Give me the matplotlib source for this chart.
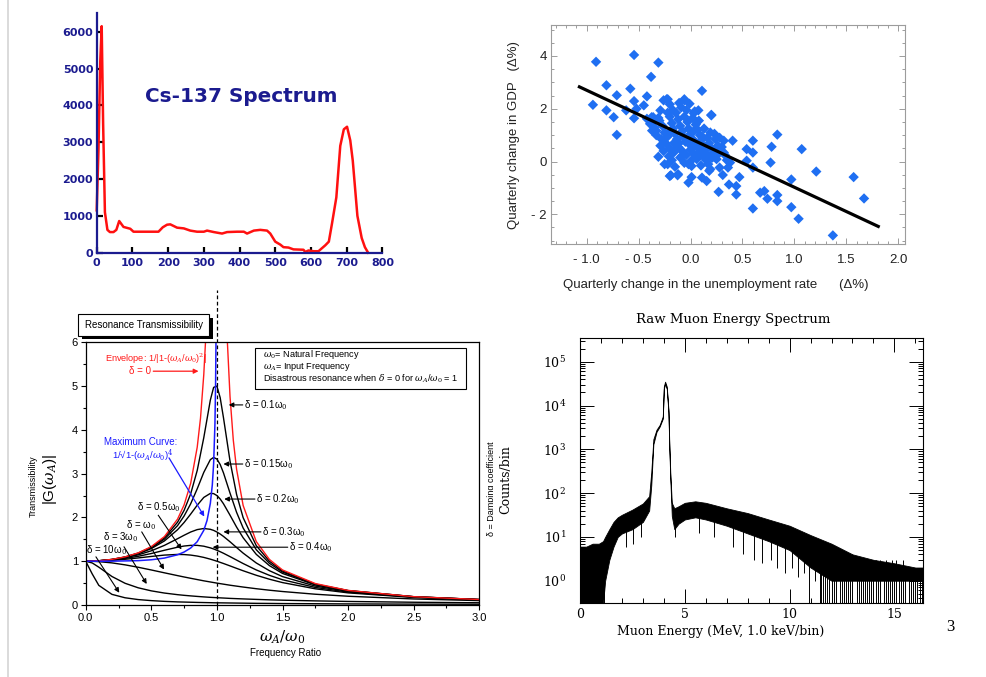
import matplotlib
matplotlib.use('Agg')
import matplotlib.pyplot as plt
from matplotlib.patches import Rectangle
from matplotlib.lines import Line2D
from matplotlib.transforms import Bbox, TransformedBbox
from matplotlib.ticker import MultipleLocator, LogLocator, NullFormatter, FixedLocator

plt.rcParams['font.family'] = ['Liberation Sans', 'DejaVu Sans']
plt.rcParams['mathtext.fontset'] = 'dejavuserif'

# ---------------- data: Cs-137 spectrum ----------------
cs_channel = [0, 5, 10, 14, 18, 23, 30, 37, 47, 55, 63, 75, 94, 103, 130, 173, 185, 197, 206,
              225, 244, 262, 281, 300, 309, 328, 351, 365, 393, 412, 421, 440, 458, 477, 486,
              500, 514, 523, 537, 551, 579, 584, 593, 607, 621, 640, 650, 659, 671, 682, 692,
              701, 710, 717, 730, 742, 751, 760]
cs_counts = [1150, 2800, 5200, 6150, 3500, 1100, 620, 560, 560, 620, 860, 700, 650, 570, 570,
             570, 690, 760, 770, 680, 660, 600, 570, 570, 600, 560, 520, 560, 570, 570, 520,
             600, 620, 600, 520, 300, 220, 150, 140, 90, 80, 20, 60, 40, 40, 200, 300, 800,
             1500, 2900, 3350, 3420, 3050, 2500, 1000, 400, 150, 0]
cs_xticks = [0, 100, 200, 300, 400, 500, 600, 700, 800]
cs_yticks = [0, 1000, 2000, 3000, 4000, 5000, 6000]

# ---------------- data: Okun scatter ----------------
gdp_x = [-0.91, -0.544, -0.31, -0.38, -0.81, -0.71, -0.58, -0.94, -0.81, -0.74, -0.71, -0.62,
         -0.544, -0.544, -0.52, -0.45, -0.42, -0.42, -0.31, -0.22, -0.26, -0.20, -0.11, -0.06,
         -0.01, 0.11, 0.20, 0.075, 0.03, -0.29, -0.36, -0.39, -0.33, -0.37, 0.32, 0.405, 0.60,
         0.835, 0.60, 0.54, 0.78, 1.07, 0.77, 0.60, 0.54, 0.47, 0.97, 1.21, 1.57, 1.67, 0.67,
         0.71, 0.74, 0.835, 0.835, 0.60, 0.97, 1.04, 1.37, 0.44, 0.44, 0.37, 0.27, 0.31, 0.155,
         0.11, 0.28, 0.36, 0.38, -0.02, 0.01, -0.12, -0.20, -0.25, 0.01, 0.19, 0.25, 0.32,
         0.155, 0.06, -0.375, -0.23, -0.06, 0.20, -0.22, -0.19, -0.125, -0.08, 0.20,
         -0.30, -0.27, -0.25, -0.22, -0.20, -0.18, -0.17, -0.15, -0.13, -0.12, -0.10, -0.08,
         -0.07, -0.05, -0.03, -0.02, 0.00, 0.02, 0.04, 0.05, 0.07, 0.09, 0.10, 0.12, 0.14,
         0.16, 0.18, 0.20, 0.22, 0.24, 0.26, -0.24, -0.20, -0.16, -0.12, -0.08, -0.04, 0.00,
         0.03, 0.06, -0.21, -0.18, -0.10, -0.06, 0.01, 0.09, 0.12, 0.15, -0.28, -0.33, -0.35,
         -0.31, -0.14, -0.06, 0.02, 0.08, -0.09, 0.04, -0.22, 0.13, 0.19, 0.23, 0.28, 0.30,
         0.27, 0.21, 0.17, 0.10, -0.02, -0.15, -0.26, -0.29, 0.33, 0.35, 0.18, 0.06, -0.01,
         -0.16, -0.19, -0.11, 0.11, 0.03, -0.04, -0.17]
gdp_y = [3.78, 4.04, 3.75, 3.21, 2.89, 2.51, 2.76, 2.15, 1.94, 1.68, 1.01, 1.94, 2.29, 1.64,
         2.00, 2.13, 2.47, 1.62, 0.18, 2.36, 2.32, 2.17, 2.22, 2.36, 2.19, 2.68, 1.77, 1.94,
         1.83, 1.94, 1.68, 1.43, 1.17, 1.17, 0.79, 0.79, 0.79, 1.02, 0.34, 0.47, 0.56, 0.47,
         -0.04, -0.23, 0.03, -0.59, -0.68, -0.38, -0.59, -1.40, -1.18, -1.12, -1.41, -1.27,
         -1.50, -1.78, -1.73, -2.17, -2.80, -1.25, -0.93, -0.87, -1.15, -0.51, -0.74, -0.61,
         -0.23, -0.23, -0.04, -0.80, -0.59, -0.48, -0.55, -0.10, -0.17, -0.29, 0.09, 0.34,
         0.28, 0.09, 1.68, 2.36, 2.32, 1.75, -0.10, -0.52, -0.52, 0.22, 0.15,
         1.55, 1.35, 1.10, 0.95, 1.70, 1.45, 1.25, 1.05, 0.85, 1.60, 1.35, 1.15, 0.95, 0.75,
         1.50, 1.25, 1.05, 0.85, 0.65, 1.40, 1.20, 1.00, 0.80, 0.60, 0.45, 0.90, 0.70, 0.50,
         0.35, 0.85, 0.60, 0.70, 0.50, 0.35, 0.55, 0.40, 0.25, 0.45, 0.30, 0.15, 0.20, 0.05,
         0.15, -0.05, 0.05, 0.35, 0.20, 0.05, 0.85, 1.00, 1.30, 1.65, 1.85, 1.70, 1.65, 1.55,
         2.05, 1.90, 1.85, 1.25, 1.10, 1.05, 0.90, 0.55, 0.30, 0.15, -0.10, -0.15, -0.10,
         -0.20, 0.40, 0.60, 0.25, 0.05, -0.35, 0.55, 0.65, 0.70, 1.15, 0.70, 0.95, 1.15,
         1.95, 1.95]
fit_x = [-1.07, 1.807]
fit_y = [2.83, -2.46]
okun_xticks = [-1.0, -0.5, 0.0, 0.5, 1.0, 1.5, 2.0]
okun_xlabels = ['- 1.0', '- 0.5', '0.0', '0.5', '1.0', '1.5', '2.0']
okun_yticks = [-2, 0, 2, 4]
okun_ylabels = ['- 2', '0', '2', '4']

# ---------------- data: resonance transmissibility ----------------
ratio = [0, 0.05, 0.1, 0.2, 0.3, 0.4, 0.5, 0.6, 0.7, 0.75, 0.8, 0.85, 0.9, 0.95, 0.975, 1.0,
         1.025, 1.05, 1.1, 1.15, 1.2, 1.3, 1.4, 1.5, 1.75, 2.0, 2.5, 3.0]
g_d010 = [1.0, 1.002, 1.010, 1.041, 1.096, 1.185, 1.322, 1.536, 1.891, 2.162, 2.538, 3.073,
          3.821, 4.68, 4.97, 5.0, 4.735, 4.28, 3.288, 2.525, 1.995, 1.356, 1.0, 0.778, 0.478,
          0.330, 0.190, 0.125]
g_d015 = [1.0, 1.002, 1.010, 1.040, 1.094, 1.179, 1.307, 1.504, 1.813, 2.033, 2.311, 2.654,
          3.029, 3.320, 3.371, 3.333, 3.209, 3.019, 2.556, 2.117, 1.759, 1.262, 0.954, 0.753,
          0.470, 0.327, 0.189, 0.124]
g_d020 = [1.0, 1.002, 1.009, 1.038, 1.089, 1.169, 1.288, 1.463, 1.719, 1.885, 2.076, 2.279,
          2.457, 2.549, 2.544, 2.5, 2.421, 2.313, 2.051, 1.780, 1.536, 1.157, 0.900, 0.721,
          0.459, 0.322, 0.187, 0.124]
g_d030 = [1.0, 1.002, 1.008, 1.034, 1.078, 1.145, 1.238, 1.362, 1.514, 1.593, 1.667, 1.722,
          1.747, 1.729, 1.704, 1.667, 1.621, 1.567, 1.444, 1.313, 1.185, 0.960, 0.784, 0.649,
          0.432, 0.310, 0.183, 0.122]
g_d040 = [1.0, 1.002, 1.007, 1.028, 1.063, 1.112, 1.176, 1.25, 1.320, 1.347, 1.362, 1.362,
          1.343, 1.305, 1.280, 1.25, 1.217, 1.182, 1.105, 1.026, 0.947, 0.801, 0.678, 0.577,
          0.401, 0.294, 0.178, 0.120]
g_d050 = [1.0, 1.001, 1.005, 1.020, 1.044, 1.075, 1.109, 1.140, 1.155, 1.152, 1.140, 1.118,
          1.087, 1.047, 1.024, 1.0, 0.974, 0.948, 0.893, 0.837, 0.782, 0.679, 0.589, 0.512,
          0.370, 0.277, 0.172, 0.117]
g_d1 = [1.0, 0.998, 0.990, 0.962, 0.917, 0.862, 0.800, 0.735, 0.671, 0.640, 0.610, 0.581,
        0.552, 0.526, 0.513, 0.500, 0.488, 0.476, 0.452, 0.431, 0.410, 0.372, 0.338, 0.308,
        0.246, 0.200, 0.138, 0.100]
g_d3 = [1.0, 0.960, 0.864, 0.651, 0.496, 0.393, 0.323, 0.273, 0.236, 0.221, 0.208, 0.196,
        0.185, 0.175, 0.171, 0.167, 0.163, 0.159, 0.151, 0.145, 0.139, 0.128, 0.118, 0.110,
        0.094, 0.081, 0.063, 0.051]
g_d10 = [1.0, 0.708, 0.448, 0.243, 0.165, 0.124, 0.100, 0.083, 0.071, 0.067, 0.063, 0.059,
         0.056, 0.053, 0.051, 0.050, 0.049, 0.048, 0.046, 0.044, 0.042, 0.038, 0.036, 0.033,
         0.029, 0.025, 0.020, 0.017]
env_left_r = [0, 0.1, 0.2, 0.3, 0.4, 0.5, 0.6, 0.7, 0.75, 0.8, 0.85, 0.875, 0.9, 0.913]
env_left_g = [1.0, 1.010, 1.042, 1.099, 1.190, 1.333, 1.563, 1.961, 2.286, 2.778, 3.604, 4.267,
              5.263, 6.0]
env_right_r = [1.080, 1.1, 1.125, 1.15, 1.2, 1.3, 1.4, 1.5, 1.75, 2.0, 2.5, 3.0]
env_right_g = [6.0, 4.762, 3.765, 3.101, 2.273, 1.449, 1.042, 0.8, 0.490, 0.333, 0.190, 0.125]
max_r = [0, 0.2, 0.4, 0.5, 0.6, 0.7, 0.75, 0.8, 0.85, 0.9, 0.925, 0.95, 0.965, 0.975, 0.985,
         0.99, 0.993]
max_g = [1.0, 1.001, 1.013, 1.033, 1.072, 1.147, 1.210, 1.301, 1.446, 1.705, 1.932, 2.322,
         2.744, 3.222, 4.129, 5.04, 6.0]

# ---------------- data: muon energy spectrum ----------------
muon_E = [0.0, 0.3, 0.6, 0.9, 1.1, 1.2, 1.4, 1.6, 1.8, 2.0, 2.5, 3.0, 3.3, 3.4, 3.5, 3.65,
          3.8, 3.95, 4.0, 4.06, 4.14, 4.22, 4.26, 4.31, 4.38, 4.5, 4.7, 5.0, 5.5, 6.0, 7.0,
          8.0, 9.0, 10.0, 11.0, 12.0, 13.0, 14.0, 15.0, 16.0, 16.38]
muon_hi = [6, 6, 7, 7, 8, 10, 15, 22, 28, 32, 42, 58, 85, 300, 1700, 2800, 3600, 5600, 27000,
           35000, 27000, 8000, 1400, 280, 60, 45, 50, 60, 65, 60, 45, 35, 25, 18, 11, 7, 4, 3,
           2.5, 2, 2]
muon_lo = [0.3, 0.3, 0.3, 0.3, 0.3, 1, 3, 6, 10, 12, 15, 22, 40, 150, 1300, 2500, 3300, 5000,
           24000, 31000, 24000, 7000, 1100, 200, 30, 15, 20, 25, 28, 25, 18, 12, 8, 5, 2, 1,
           1, 1, 1, 1, 1]
dip_E = [0.95, 1.05, 1.15, 2.2, 2.55, 2.9, 4.55, 5.7, 6.4, 7.3, 7.8, 8.3, 8.7, 9.1, 9.4, 9.8,
         10.1, 10.4, 10.7, 10.95, 11.2, 11.45,
         11.5, 11.6, 11.7, 11.8, 11.9, 12.0, 12.1, 12.2, 12.4, 12.5, 12.6, 12.7, 12.8, 12.9,
         13.0, 13.2, 13.3, 13.4, 13.5, 13.6, 13.7, 13.8, 13.9, 14.0, 14.1, 14.2, 14.3, 14.5,
         14.6, 14.7, 14.8, 14.9, 15.0, 15.1, 15.2, 15.3, 15.4, 15.5, 15.7, 15.8, 15.9, 16.0,
         16.1, 16.2, 16.3]
dip_min = [0.3, 0.3, 0.3, 6, 7, 10, 10, 12, 10, 6, 4, 3, 2.5, 3, 2, 1.5, 2, 1.2, 1.5, 0.3,
           1, 0.3,
           0.3, 0.3, 0.3, 0.3, 0.3, 0.3, 0.3, 0.3, 0.3, 0.3, 0.3, 0.3, 0.3, 0.3, 0.3, 0.3,
           0.3, 0.3, 0.3, 0.3, 0.3, 0.3, 0.3, 0.3, 0.3, 0.3, 0.3, 0.3, 0.3, 0.3, 0.3, 0.3,
           0.3, 0.3, 0.3, 0.3, 0.3, 0.3, 0.3, 0.3, 0.3, 0.3, 0.3, 0.3, 0.3]
dip_max = [5, 5, 5, 20, 25, 30, 30, 40, 35, 25, 20, 15, 12, 10, 9, 8, 7, 6, 5, 4, 4, 3,
           5, 4, 6, 4, 5, 3, 4, 5, 3, 4, 3, 4, 3, 3, 4, 3, 3, 2, 3, 3, 2, 3, 2, 3, 3, 2, 3,
           2, 3, 2, 2, 3, 2, 3, 2, 2, 3, 2, 2, 2, 2, 2, 2, 2, 2]
muon_xticks = [0, 5, 10, 15]
muon_yticks = [1, 10, 100, 1000, 10000, 100000]
muon_ylabels = ['$10^{0}$', '$10^{1}$', '$10^{2}$', '$10^{3}$', '$10^{4}$', '$10^{5}$']

# ---------------- layout helpers ----------------
W, H = 987, 677
fig = plt.figure(figsize=(W / 100, H / 100), dpi=100)
fig.patch.set_facecolor('white')


def rect(x0, y0, x1, y1):
    return [x0 / W, 1 - y1 / H, (x1 - x0) / W, (y1 - y0) / H]


def fx(x):
    return x / W


def fy(y):
    return 1 - y / H


fig.add_artist(Line2D([fx(8.3), fx(8.3)], [0, 1], color='#d4d4d4', lw=1.2))

# ================= Panel 1: Cs-137 =================
NAVY = '#1b1b8f'
ax1 = fig.add_axes(rect(96.7, 13.3, 382.4, 252.7))
ax1.plot(cs_channel, cs_counts, color='#ff1010', lw=1.8, clip_on=False)
ax1.set_xlim(0, 800)
ax1.set_ylim(0, 6500)
for s in ['top', 'right']:
    ax1.spines[s].set_visible(False)
for s in ['left', 'bottom']:
    ax1.spines[s].set_color(NAVY)
    ax1.spines[s].set_linewidth(1.6)
ax1.set_xticks(cs_xticks)
ax1.set_yticks(cs_yticks)
ax1.tick_params(direction='in', length=4, width=1.6, color='black', labelsize=8,
                labelcolor=NAVY)
ax1.tick_params(axis='x', pad=4)
ax1.tick_params(axis='y', pad=2.5)
for lab in ax1.get_xticklabels() + ax1.get_yticklabels():
    lab.set_fontweight('bold')
    lab.set_fontfamily('DejaVu Sans')
ax1.text(135, 4254, 'Cs-137 Spectrum', fontsize=14.4, fontweight='bold', color=NAVY,
         family='DejaVu Sans', va='center', ha='left')

# ================= Panel 2: Okun scatter =================
GREY = '#9c9c9c'
ax2 = fig.add_axes(rect(551, 25, 905, 244))
ax2.scatter(gdp_x, gdp_y, marker='D', s=28, color='#1f6ff2', edgecolors='none', zorder=2)
ax2.plot(fit_x, fit_y, color='black', lw=2.3, zorder=3)
ax2.set_xlim(-1.3436, 2.0645)
ax2.set_ylim(-3.126, 5.175)
for s in ax2.spines.values():
    s.set_color(GREY)
    s.set_linewidth(0.8)
ax2.xaxis.set_major_locator(FixedLocator(okun_xticks))
ax2.set_xticklabels(okun_xlabels)
ax2.yaxis.set_major_locator(FixedLocator(okun_yticks))
ax2.set_yticklabels(okun_ylabels)
ax2.xaxis.set_minor_locator(MultipleLocator(0.1))
ax2.yaxis.set_minor_locator(MultipleLocator(0.5))
ax2.tick_params(which='both', direction='in', top=True, right=True, color=GREY, width=0.7,
                labelsize=9.5, labelcolor='#222222')
ax2.tick_params(which='major', length=4)
ax2.tick_params(which='minor', length=2.5)
ax2.tick_params(axis='x', pad=7)
ax2.tick_params(axis='y', pad=3)
fig.text(fx(716), fy(285), 'Quarterly change in the unemployment rate      (\u0394%)',
         ha='center', va='center', fontsize=9.5, color='#222222')
fig.text(fx(514), fy(135), 'Quarterly change in GDP   (\u0394%)', rotation=90,
         ha='center', va='center', fontsize=9.5, color='#222222')

# ================= Panel 3: resonance =================
ax3 = fig.add_axes(rect(85.7, 342.3, 479.3, 605))
curves = [g_d010, g_d015, g_d020, g_d030, g_d040, g_d050, g_d1, g_d3, g_d10]
for g in curves:
    ax3.plot(ratio, g, color='black', lw=1.0)
ax3.plot(env_left_r, env_left_g, color='#ff1a1a', lw=1.0)
ax3.plot(env_right_r, env_right_g, color='#ff1a1a', lw=1.0)
ax3.plot(max_r, max_g, color='#1a1aff', lw=1.1)
ax3.plot([1, 1], [0, 7.19], color='black', lw=0.9, dashes=(3, 2), clip_on=False)
ax3.set_xlim(0, 3)
ax3.set_ylim(0, 6)
ax3.xaxis.set_major_locator(MultipleLocator(0.5))
ax3.xaxis.set_minor_locator(MultipleLocator(0.25))
ax3.yaxis.set_major_locator(MultipleLocator(1))
ax3.yaxis.set_minor_locator(MultipleLocator(0.5))
ax3.xaxis.set_major_formatter(matplotlib.ticker.FormatStrFormatter('%.1f'))
ax3.tick_params(which='both', direction='out', labelsize=8, width=0.8)
ax3.tick_params(which='major', length=3.5, pad=2)
ax3.tick_params(which='minor', length=2)
for s in ax3.spines.values():
    s.set_linewidth(0.9)

LBL = 7.0
ax3.text(0.15, 5.62, r'Envelope: 1/|1-($\omega_A$/$\omega_0$)$^2$|', color='#ff1a1a',
         fontsize=6.6, va='center', ha='left')
ax3.text(0.33, 5.34, '\u03b4 = 0', color='#ff1a1a', fontsize=LBL, va='center', ha='left')
ax3.annotate('', xy=(0.86, 5.34), xytext=(0.515, 5.34),
             arrowprops=dict(arrowstyle='-|>', color='#ff1a1a', lw=0.9, mutation_scale=7,
                             shrinkA=0, shrinkB=0))
ax3.text(0.14, 3.73, 'Maximum Curve:', color='#1a1aff', fontsize=LBL, va='center', ha='left')
ax3.text(0.2, 3.42, '1/\u221a1-($\\omega_A$/$\\omega_0$)$^4$',
         color='#1a1aff', fontsize=6.8, va='center', ha='left')
ax3.annotate('', xy=(0.904, 2.02), xytext=(0.635, 3.36),
             arrowprops=dict(arrowstyle='-|>', color='#1a1aff', lw=0.9, mutation_scale=7,
                             shrinkA=0, shrinkB=0))

ax3.add_patch(Rectangle((1.29, 4.93), 1.606, 0.94, facecolor='white', edgecolor='black',
                        lw=0.8, zorder=4))
ax3.text(1.349, 5.71, r'$\omega_0$= Natural Frequency', fontsize=6.6, va='center', zorder=5)
ax3.text(1.349, 5.44, r'$\omega_A$= Input Frequency', fontsize=6.6, va='center', zorder=5)
ax3.text(1.349, 5.16, r'Disastrous resonance when $\delta$ = 0 for $\omega_A$/$\omega_0$ = 1',
         fontsize=6.6, va='center', zorder=5)

right_labels = [
    ('\u03b4 = 0.1\u03c9$_0$', (1.207, 4.57), (1.09, 4.57)),
    ('\u03b4 = 0.15\u03c9$_0$', (1.207, 3.22), (1.05, 3.22)),
    ('\u03b4 = 0.2\u03c9$_0$', (1.30, 2.42), (1.056, 2.42)),
    ('\u03b4 = 0.3\u03c9$_0$', (1.346, 1.67), (1.05, 1.67)),
    ('\u03b4 = 0.4\u03c9$_0$', (1.55, 1.32), (0.968, 1.32)),
]
for txt, tpos, tip in right_labels:
    ax3.text(tpos[0], tpos[1], txt, fontsize=LBL, va='center', ha='left')
    ax3.annotate('', xy=tip, xytext=(tpos[0] - 0.01, tpos[1]),
                 arrowprops=dict(arrowstyle='-|>', color='black', lw=0.8, mutation_scale=7,
                                 shrinkA=0, shrinkB=0))
left_labels = [
    ('\u03b4 = 0.5\u03c9$_0$', (0.393, 2.23), (0.553, 2.05), (0.73, 1.27)),
    ('\u03b4 = \u03c9$_0$', (0.31, 1.83), (0.427, 1.67), (0.597, 0.81)),
    ('\u03b4 = 3\u03c9$_0$', (0.134, 1.545), (0.292, 1.33), (0.465, 0.48)),
    ('\u03b4 = 10\u03c9$_0$', (0.004, 1.256), (0.078, 1.10), (0.256, 0.28)),
]
for txt, tpos, start, tip in left_labels:
    ax3.text(tpos[0], tpos[1], txt, fontsize=LBL, va='center', ha='left')
    ax3.annotate('', xy=tip, xytext=start,
                 arrowprops=dict(arrowstyle='-|>', color='black', lw=0.8, mutation_scale=7,
                                 shrinkA=0, shrinkB=0))

# title box with shadow
fig.add_artist(Rectangle((fx(82.3), fy(339.3)), (212.7 - 82.3) / W, (339.3 - 318) / H,
                         transform=fig.transFigure, facecolor='black', edgecolor='none'))
fig.add_artist(Rectangle((fx(78.3), fy(335.7)), (209 - 78.3) / W, (335.7 - 314.3) / H,
                         transform=fig.transFigure, facecolor='white', edgecolor='black',
                         lw=0.8))
fig.text(fx(143.6), fy(325), 'Resonance Transmissibility', ha='center', va='center',
         fontsize=7)
fig.text(fx(33), fy(486.5), 'Transmissibility', rotation=90, ha='center', va='center',
         fontsize=6.5)
fig.text(fx(50), fy(479), r'|G($\omega_A$)|', rotation=90, ha='center', va='center',
         fontsize=11)
fig.text(fx(282), fy(637), r'$\omega_A/\omega_0$', ha='center', va='center', fontsize=11)
fig.text(fx(286), fy(653), 'Frequency Ratio', ha='center', va='center', fontsize=7)
dtxt = fig.text(fx(491.5), fy(489), '\u03b4 = Damping coefficient', rotation=90, ha='center',
                va='center', fontsize=6.5)
dtxt.set_clip_box(TransformedBbox(Bbox([[0, 0], [493.5 / W, 1]]), fig.transFigure))
dtxt.set_clip_on(True)

# ================= Panel 4: muon spectrum =================
SERIF = 'DejaVu Serif'
ax4 = fig.add_axes(rect(580, 337.7, 923.3, 602.7))
ax4.set_yscale('log')
ax4.fill_between(muon_E, muon_lo, muon_hi, color='black', lw=0.6, edgecolor='black')
ax4.vlines(dip_E, dip_min, dip_max, color='black', lw=0.7)
ax4.set_xlim(0, 16.38)
ax4.set_ylim(10 ** -0.502, 10 ** 5.548)
ax4.set_xticks(muon_xticks)
ax4.set_xticklabels([str(v) for v in muon_xticks])
ax4.xaxis.set_minor_locator(MultipleLocator(1))
ax4.yaxis.set_major_locator(FixedLocator(muon_yticks))
ax4.set_yticklabels(muon_ylabels)
ax4.yaxis.set_minor_locator(LogLocator(base=10, subs=[2, 3, 4, 5, 6, 7, 8, 9], numticks=20))
ax4.yaxis.set_minor_formatter(NullFormatter())
ax4.tick_params(which='both', direction='in', top=True, right=True, width=0.7,
                labelsize=9)
ax4.tick_params(which='major', length=10)
ax4.tick_params(which='minor', length=3.5)
ax4.tick_params(axis='y', pad=10)
ax4.tick_params(axis='x', pad=4)
for lab in ax4.get_xticklabels():
    lab.set_fontfamily(SERIF)
for s in ax4.spines.values():
    s.set_linewidth(0.8)
fig.text(fx(733), fy(320), 'Raw Muon Energy Spectrum', ha='center', va='center',
         family=SERIF, fontsize=9.5)
fig.text(fx(720.8), fy(631), 'Muon Energy (MeV, 1.0 keV/bin)', ha='center', va='center',
         family=SERIF, fontsize=9)
fig.text(fx(506), fy(480), 'Counts/bin', rotation=90, ha='center', va='center',
         family=SERIF, fontsize=9)
fig.text(fx(950), fy(627), '3', ha='center', va='center', family='Liberation Serif',
         fontsize=12)

fig.savefig('out.png', dpi=100, facecolor='white')
